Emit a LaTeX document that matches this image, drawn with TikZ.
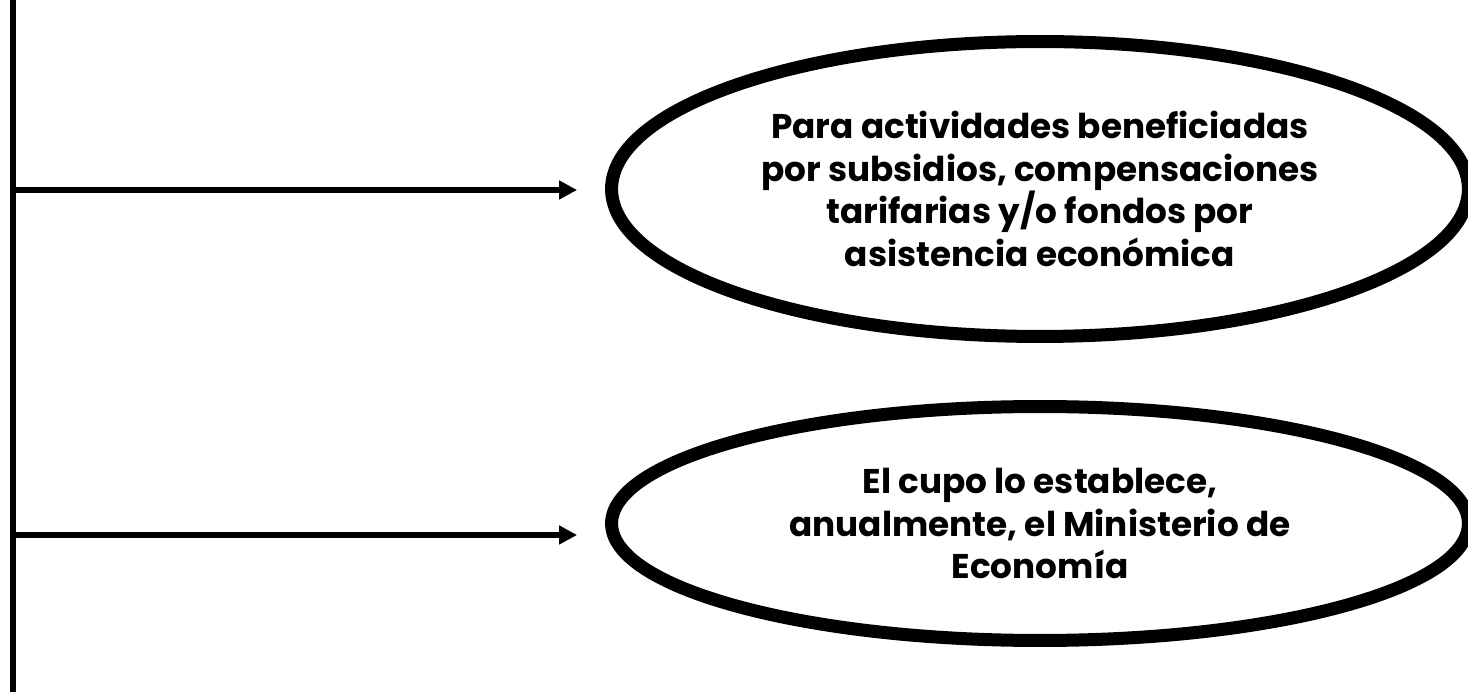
\documentclass[tikz,border=0pt]{standalone}
\usepackage{fontspec}
\setmainfont{Poppins}
\usepackage{tikz}
\usetikzlibrary{arrows.meta, shapes.geometric, positioning}

\begin{document}
\begin{tikzpicture}[x=0.02cm, y=-0.02cm,
    bulle/.style={ellipse, draw, line width=0.26cm, inner sep=0pt,
        minimum width=17.14cm, align=center,
        font=\fontsize{19.5}{24.2}\selectfont\bfseries},
    trait/.style={line width=0.12cm},
    fleche/.style={trait, -{Triangle[length=0.36cm, width=0.36cm]}, shorten >=0.56cm}]

    \useasboundingbox (0,0) rectangle (1468,695);

    % Les deux bulles
    \node[bulle, minimum height=5.9cm] (sub) at (1040,189)
        {Para actividades beneficiadas\\por subsidios, compensaciones\\tarifarias y/o fondos por\\asistencia económica};
    \node[bulle, minimum height=4.68cm] (cupo) at (1040,523.5)
        {El cupo lo establece,\\anualmente, el Ministerio de\\Economía};

    % Le trait vertical et les départs
    \coordinate (haut) at (13,0);
    \coordinate (bas) at (13,692);
    \coordinate (d1) at (13,190);
    \coordinate (d2) at (13,535);
    \draw[trait] (haut) -- (bas);

    % Les flèches
    \path[fleche]
    (d1) edge (d1 -| sub.west)
    (d2) edge (d2 -| cupo.west);

\end{tikzpicture}
\end{document}
